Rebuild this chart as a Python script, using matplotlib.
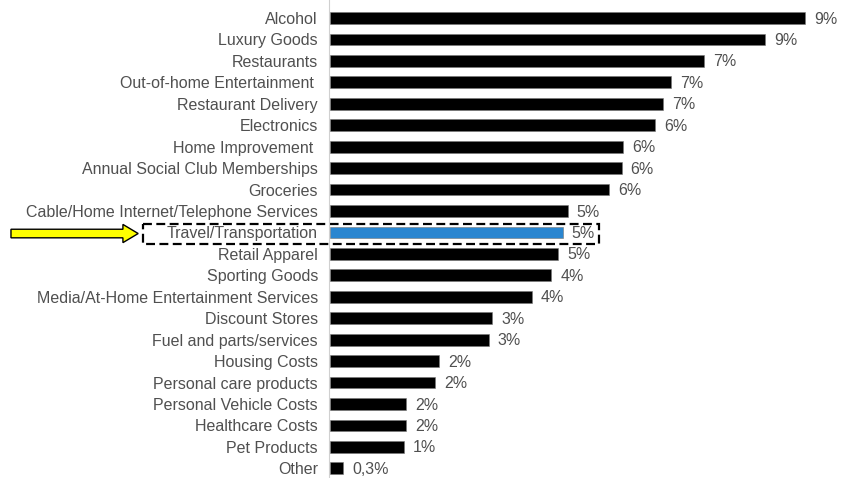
import matplotlib
matplotlib.use("Agg")
import matplotlib.pyplot as plt
from matplotlib.patches import Rectangle, FancyArrow

categories = [
    "Alcohol", "Luxury Goods", "Restaurants", "Out-of-home Entertainment ",
    "Restaurant Delivery", "Electronics", "Home Improvement ",
    "Annual Social Club Memberships", "Groceries",
    "Cable/Home Internet/Telephone Services", "Travel/Transportation",
    "Retail Apparel", "Sporting Goods", "Media/At-Home Entertainment Services",
    "Discount Stores", "Fuel and parts/services", "Housing Costs",
    "Personal care products", "Personal Vehicle Costs", "Healthcare Costs",
    "Pet Products", "Other",
]
values = [9.33, 8.55, 7.35, 6.71, 6.55, 6.39, 5.76, 5.73, 5.49, 4.67, 4.57,
          4.49, 4.35, 3.96, 3.18, 3.12, 2.14, 2.06, 1.49, 1.49, 1.45, 0.25]
value_labels = ["9%", "9%", "7%", "7%", "7%", "6%", "6%", "6%", "6%", "5%", "5%",
                "5%", "4%", "4%", "3%", "3%", "2%", "2%", "2%", "2%", "1%", "0,3%"]
highlight = "Travel/Transportation"

plt.rcParams['font.family'] = ['Liberation Sans', 'DejaVu Sans']

fig = plt.figure(figsize=(8.47, 4.78), dpi=100)
ax = fig.add_axes([329 / 847, 0, 518 / 847, 1])

ypos = list(range(len(categories)))
colors = ['#2a86d0' if c == highlight else 'black' for c in categories]
ax.barh(ypos, values, height=0.55, color=colors, edgecolor='#777777', linewidth=0.4)

for y, v, lab in zip(ypos, values, value_labels):
    ax.text(v + 0.18, y + 0.05, lab, va='center', ha='left', fontsize=11.5,
            color='#505050')

ax.set_yticks(ypos)
ax.set_yticklabels(categories, fontsize=11.5, color='#505050')
ax.tick_params(axis='y', length=0, pad=8)
ax.set_xticks([])
ax.set_xlim(-0.02, 10.16)
ax.set_ylim(21.45, -0.84)

for s in ['top', 'right', 'bottom']:
    ax.spines[s].set_visible(False)
ax.spines['left'].set_color('#d0d0d0')
ax.spines['left'].set_linewidth(0.8)

# highlight box + arrow on the travel row
hi = categories.index(highlight)
ax.add_patch(Rectangle((-3.67, hi - 0.4), 8.96, 0.92, fill=False,
                       edgecolor='black', linestyle=(0, (4, 2)), linewidth=1.6,
                       clip_on=False))
ax.add_patch(FancyArrow(-6.27, hi + 0.05, 2.5, 0, width=0.4, head_width=0.85,
                        head_length=0.3, length_includes_head=True,
                        facecolor='#ffff00', edgecolor='black', linewidth=1.0,
                        clip_on=False))

fig.savefig("out.png", dpi=100)
